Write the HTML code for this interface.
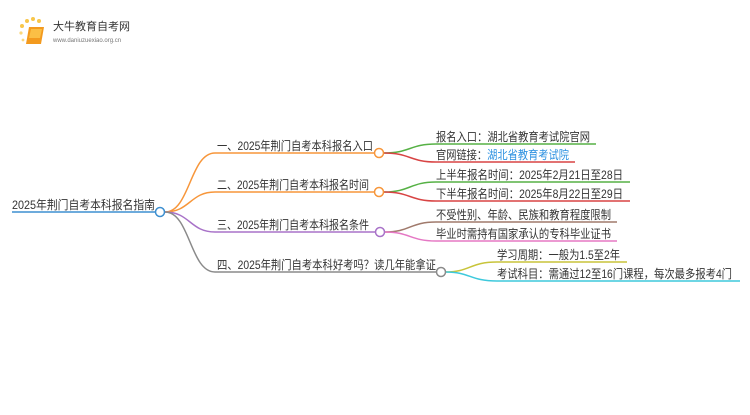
<!DOCTYPE html>
<html><head><meta charset="utf-8"><style>
body{margin:0;background:#fff;}
svg text{font-family:"Liberation Sans","Noto Sans CJK SC",sans-serif;fill:#333;}
</style></head><body>
<svg width="750" height="410" viewBox="0 0 750 410" xmlns="http://www.w3.org/2000/svg">
<g>
<circle cx="22" cy="26" r="2" fill="#f8c64a"/><circle cx="27" cy="21" r="2" fill="#f8c64a"/><circle cx="33" cy="19" r="2" fill="#f8c64a"/><circle cx="39" cy="21" r="2" fill="#f8c64a"/><circle cx="21" cy="33" r="1.6" fill="#fbd77a"/><circle cx="23" cy="40" r="1.4" fill="#fbd77a"/>
<path d="M29 27 L44 27 L41 44 L26 44 Z" fill="#f39a1e"/>
<path d="M31 29 L42 29 L40 38 L29 38 Z" fill="#fbbf45"/>
<text x="53" y="30" font-size="11" style="fill:#333">大牛教育自考网</text>
<text x="53" y="42" font-size="6" style="fill:#777">www.daniuzuexiao.org.cn</text>
</g>
<g fill="none" stroke-width="1.5">
<line x1="12" y1="212" x2="155" y2="212" stroke="#3d8fd0"/>
<path d="M165 212 C190 212,190 153,215 153 L374 153" stroke="#f7963a"/>
<path d="M165 212 C190 212,190 192,215 192 L374 192" stroke="#f7963a"/>
<path d="M165 212 C190 212,190 232,215 232 L375 232" stroke="#a872c8"/>
<path d="M165 212 C190 212,190 272,215 272 L436 272" stroke="#8a8a8a"/>
<path d="M384 153 C410 153,410 144,436 144 L596 144" stroke="#56b145"/>
<path d="M384 153 C410 153,410 162,436 162 L575 162" stroke="#d84444"/>
<path d="M384 192 C410 192,410 182,436 182 L630 182" stroke="#56b145"/>
<path d="M384 192 C410 192,410 201,436 201 L630 201" stroke="#d84444"/>
<path d="M385 232 C410 232,410 222,436 222 L617 222" stroke="#a07a6c"/>
<path d="M385 232 C410 232,410 241,436 241 L617 241" stroke="#e578c4"/>
<path d="M446 272 C470 272,470 262,497 262 L627 262" stroke="#c8c43a"/>
<path d="M446 272 C470 272,470 281,497 281 L740 281" stroke="#3ec9dc"/>
</g>
<g fill="#fff" stroke-width="1.5">
<circle cx="160" cy="212" r="4.5" stroke="#3d8fd0"/>
<circle cx="379" cy="153" r="4.5" stroke="#f7963a"/>
<circle cx="379" cy="192" r="4.5" stroke="#f7963a"/>
<circle cx="380" cy="232" r="4.5" stroke="#a872c8"/>
<circle cx="441" cy="272" r="4.5" stroke="#8a8a8a"/>
</g>
<g font-size="12">
<text x="12" y="209" textLength="143" lengthAdjust="spacingAndGlyphs">2025年荆门自考本科报名指南</text>
<text x="217" y="150" textLength="156" lengthAdjust="spacingAndGlyphs">一、2025年荆门自考本科报名入口</text>
<text x="217" y="189" textLength="152" lengthAdjust="spacingAndGlyphs">二、2025年荆门自考本科报名时间</text>
<text x="217" y="229" textLength="152" lengthAdjust="spacingAndGlyphs">三、2025年荆门自考本科报名条件</text>
<text x="217" y="269" textLength="219" lengthAdjust="spacingAndGlyphs">四、2025年荆门自考本科好考吗？读几年能拿证</text>
<text x="436" y="141" textLength="154" lengthAdjust="spacingAndGlyphs">报名入口：湖北省教育考试院官网</text>
<text x="436" y="159" textLength="133" lengthAdjust="spacingAndGlyphs">官网链接：<tspan style="fill:#2a8fe0">湖北省教育考试院</tspan></text>
<text x="436" y="179" textLength="187" lengthAdjust="spacingAndGlyphs">上半年报名时间：2025年2月21日至28日</text>
<text x="436" y="198" textLength="187" lengthAdjust="spacingAndGlyphs">下半年报名时间：2025年8月22日至29日</text>
<text x="436" y="219" textLength="175" lengthAdjust="spacingAndGlyphs">不受性别、年龄、民族和教育程度限制</text>
<text x="436" y="238" textLength="175" lengthAdjust="spacingAndGlyphs">毕业时需持有国家承认的专科毕业证书</text>
<text x="497" y="259" textLength="123" lengthAdjust="spacingAndGlyphs">学习周期：一般为1.5至2年</text>
<text x="497" y="278" textLength="235" lengthAdjust="spacingAndGlyphs">考试科目：需通过12至16门课程，每次最多报考4门</text>
</g>
</svg>
</body></html>
